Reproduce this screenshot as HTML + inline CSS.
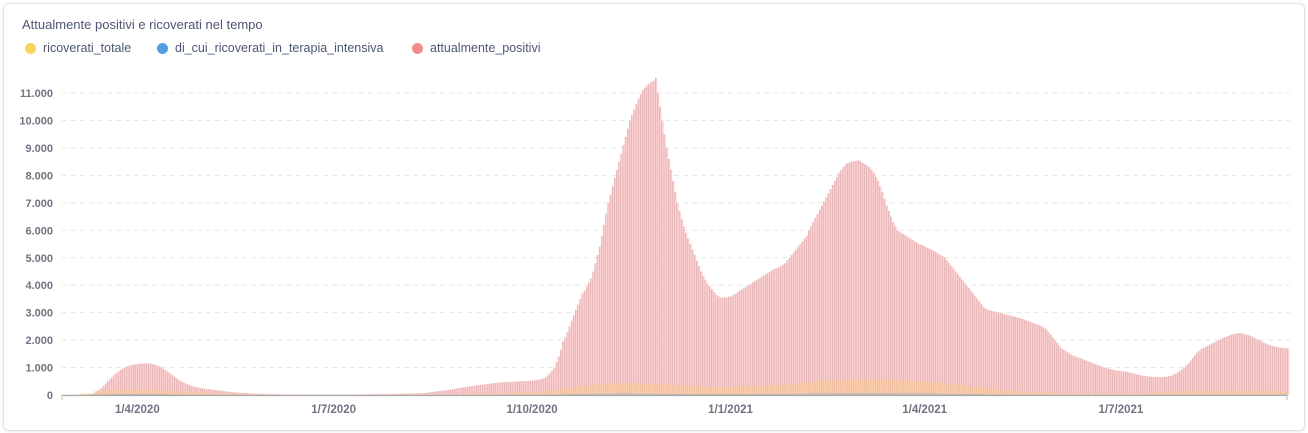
<!DOCTYPE html>
<html><head><meta charset="utf-8">
<style>
html,body{margin:0;padding:0;background:#fff;}
body{width:1308px;height:433px;overflow:hidden;font-family:"Liberation Sans",sans-serif;}
.card{position:absolute;left:3px;top:3px;width:1300px;height:426px;border:1px solid #e2e2e2;border-radius:6px;box-shadow:0 1px 3px rgba(0,0,0,0.08);background:#fff;}
.title{position:absolute;left:22px;top:17px;font-size:13px;color:#4c5773;}
.leg{position:absolute;top:41px;font-size:12.5px;color:#4c5773;display:flex;align-items:center;}
.dot{width:11px;height:11px;border-radius:50%;margin-right:7px;}
svg{position:absolute;left:0;top:0;}
</style></head><body>
<div class="card"></div>
<div class="title">Attualmente positivi e ricoverati nel tempo</div>
<div class="leg" style="left:25px"><span class="dot" style="background:#f9d45c"></span>ricoverati_totale</div>
<div class="leg" style="left:157px"><span class="dot" style="background:#509ee3"></span>di_cui_ricoverati_in_terapia_intensiva</div>
<div class="leg" style="left:412px"><span class="dot" style="background:#ef8c8c"></span>attualmente_positivi</div>
<svg id="chart" width="1308" height="433"></svg>
<script>
const positivi = [
3,3,4,5,5,6,6,7,8,10,12,15,20,40,
80,130,190,260,340,420,500,580,660,740,810,870,920,970,1010,1040,1070,1090,1110,1120,1130,1140,1145,1150,1150,
1145,1140,1120,1100,1070,1030,990,940,890,840,780,720,660,600,550,500,460,420,390,360,330,310,290,
270,250,240,230,220,210,200,190,180,170,160,150,140,130,120,110,100,95,90,
85,80,75,70,65,60,55,50,45,40,38,36,34,32,30,28,27,26,25,24,
23,22,22,21,21,20,20,20,19,19,19,18,18,18,18,18,18,18,18,18,18,18,18,18,19,19,19,20,20,20,21,21,22,22,23,23,24,24,25,26,27,28,29,30,31,32,33,34,35,36,37,38,39,40,42,44,46,48,50,52,55,58,61,64,67,70,
75,85,95,105,115,125,135,145,155,165,175,185,200,
215,230,245,260,270,280,290,300,310,320,335,350,
360,370,380,390,400,410,420,430,440,450,
455,460,465,470,475,480,485,490,495,500,500,505,
510,515,520,530,540,550,560,580,600,
650,720,800,900,1000,1200,1400,1650,1950,
2100,2300,2500,2700,2900,3100,3300,3500,3700,3800,3950,4100,4250,
4500,4800,5100,5400,5800,6200,6600,7000,7300,7600,7900,8200,8500,8800,
9100,9400,9700,10000,10200,10400,10600,10800,10950,11100,11200,11300,11350,11400,11450,11550,
11000,10500,10000,9500,9000,8600,8200,7800,7400,7000,6700,6400,6150,5900,5700,5500,5300,5100,4900,4700,4500,
4350,4200,4050,3950,3850,3750,3650,3600,3550,3550,3550,3550,3580,3600,
3650,3700,3750,3800,3850,3900,3950,4000,4050,4100,4150,4200,4250,4300,4350,4400,4450,4500,4550,4600,4620,4650,4700,
4750,4800,4900,5000,5100,5200,5300,5400,5500,5600,5700,5800,6000,6150,6300,6450,6600,6750,6900,7050,7200,7350,7500,7650,7800,7950,8100,8200,8300,8400,8450,8480,8500,8520,8540,8550,
8500,8450,8400,8350,8300,8200,8100,7950,7800,7600,7400,7150,6900,6700,6500,6300,6150,6000,5950,5900,5850,5800,5750,5700,5650,5600,5550,5500,5480,
5450,5400,5360,5320,5280,5240,5200,5150,5100,5050,5000,4900,4800,4700,4600,4500,4400,4300,4200,4100,4000,3900,3800,3700,3600,3500,3400,3300,3200,3150,3100,3080,3060,3040,3020,3000,2980,
2960,2940,2920,2900,2880,2860,2840,2820,2800,2770,2740,2710,2680,2650,2620,2590,2560,2530,2500,2450,2400,2300,2200,2100,2000,1900,1800,1700,
1650,1600,1550,1500,1450,1420,1390,1360,1330,1300,1270,1240,1210,1180,1150,1120,1090,1060,1030,1000,980,960,940,920,900,890,880,870,860,850,830,810,790,770,750,730,710,700,690,680,670,660,660,650,650,650,
650,660,670,690,710,740,780,820,870,930,1000,1080,1160,1250,1350,1450,1550,1620,1680,
1720,1760,1800,1840,1880,1920,1960,2000,2040,2080,2110,2140,2170,2200,2220,2240,2250,2260,
2240,2220,2200,2170,2140,2100,2060,2020,1980,1940,1900,1870,1840,1810,1790,1770,1750,1730,1720,1710,1700,1700
];
const ricoveratiWeekly = [10,60,150,190,200,190,170,140,110,80,50,35,25,20,15,12,10,10,10,10,12,12,14,16,18,22,30,45,60,80,100,130,180,250,330,400,420,430,420,400,360,320,300,290,300,320,340,370,420,480,530,560,570,570,560,540,510,470,420,370,300,240,180,130,100,80,60,50,45,45,50,70,100,130,150,160,160,155,150,145,140];
const terapiaWeekly = [2,8,25,35,38,35,30,22,15,10,6,4,3,2,2,2,2,2,2,2,2,2,2,2,3,3,4,5,7,9,12,16,22,30,40,45,48,48,46,42,38,34,32,30,30,32,35,40,45,50,55,58,60,60,58,55,52,48,42,36,30,24,18,14,10,8,6,5,5,5,6,8,10,14,16,18,18,18,17,17,16];
const yTicks = [0,1000,2000,3000,4000,5000,6000,7000,8000,9000,10000,11000];
const yTickLabels = ["0","1.000","2.000","3.000","4.000","5.000","6.000","7.000","8.000","9.000","10.000","11.000"];
const xTickDays = [34,125,217,309,399,490];
const xTickLabels = ["1/4/2020","1/7/2020","1/10/2020","1/1/2021","1/4/2021","1/7/2021"];

const NS="http://www.w3.org/2000/svg";
const svg=document.getElementById('chart');
const X0=64, DX=2.157, Y0=395, PY=27.45/1000;
const NDAYS=positivi.length;
const xScale=d=>X0+d*DX;
const yScale=v=>Y0-v*PY;
function mk(tag,attrs){const e=document.createElementNS(NS,tag);for(const k in attrs)e.setAttribute(k,attrs[k]);svg.appendChild(e);return e;}

yTicks.forEach((t,i)=>{
  if(t>0){const g=mk('line',{x1:62,x2:1290,y1:yScale(t),y2:yScale(t),stroke:'#e8e8e8','stroke-dasharray':'5,4','stroke-width':1});
  
  }
  const tx=mk('text',{x:53,y:yScale(t)+4,'text-anchor':'end','font-size':11,'font-weight':'bold',fill:'#6f7480','font-family':'Liberation Sans, sans-serif'});
  tx.textContent=yTickLabels[i];
  
  
});

positivi.forEach((v,d)=>{
  const x=xScale(d), y=yScale(v);
  const r=mk('rect',{x:x,y:y,width:DX,height:Y0-y,fill:'#fcd0d0'});
  
  
  const l=mk('rect',{x:x,y:y,width:0.6,height:Y0-y,fill:'#d9a5a7'});
  
  
});
ricoveratiWeekly.forEach((v,w)=>{
  const x=xScale(w*7), y=yScale(v);
  const wd=Math.min(7,NDAYS-w*7)*DX;
  if(wd<=0) return;
  const r=mk('rect',{x:x,y:y,width:wd,height:Y0-y,fill:'#f9c98a','fill-opacity':0.5});
  
  
});
terapiaWeekly.forEach((v,w)=>{
  const x=xScale(w*7), y=yScale(v);
  const wd=Math.min(7,NDAYS-w*7)*DX;
  if(wd<=0) return;
  const r=mk('rect',{x:x,y:y,width:wd,height:Y0-y,fill:'#8fa9c9','fill-opacity':0.55});
  
  
});
const ax=mk('line',{x1:62,x2:1287,y1:Y0+0.5,y2:Y0+0.5,stroke:'#aaa','stroke-width':1.2});


[62,1287].forEach(x=>{const t=mk('line',{x1:x,x2:x,y1:Y0,y2:Y0+5,stroke:'#bbb'});

});
xTickDays.forEach((d,i)=>{
  const tx=mk('text',{x:xScale(d),y:413,'text-anchor':'middle','font-size':11.5,'font-weight':'bold',fill:'#6f7480','font-family':'Liberation Sans, sans-serif'});
  tx.textContent=xTickLabels[i];
  
  
});
</script>
</body></html>
